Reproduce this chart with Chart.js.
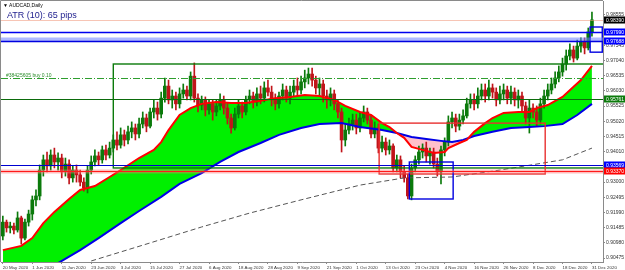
<!DOCTYPE html>
<html>
<head>
<meta charset="utf-8">
<title>AUDCAD Daily</title>
<script src="https://cdn.jsdelivr.net/npm/chart.js@4.4.1/dist/chart.umd.min.js"></script>
<style>
  html, body { margin: 0; padding: 0; background: #fff; }
  #box { position: relative; width: 625px; height: 270px; overflow: hidden; }
  #box canvas { position: absolute; left: 0; top: 0; }
  .lbl { position: absolute; white-space: nowrap; font-family: "Liberation Sans", Arial, sans-serif; }
  .tiny { font-size: 10px; line-height: 10px; transform: scale(0.5); transform-origin: 0 0; }
</style>
</head>
<body>
<div id="box">
  <canvas id="chart" width="625" height="270"></canvas>
  <div class="lbl tiny" style="left:3px;top:3px;color:#000">▼ AUDCAD,Daily</div>
  <div class="lbl" style="left:7px;top:11px;font-size:9px;line-height:9px;color:#1c1c8c">ATR (10): 65 pips</div>
  <div class="lbl tiny" style="left:6px;top:73px;color:#2a8c2a">#38425605 buy 0.10</div>
</div>
<script>
// daily bars, index 0 = 20 May 2020 ... 160 = 31 Dec 2020 (no bar on 25 Dec)
const opens = [
  0.9121,0.9167,0.9148,0.9154,0.9141,0.9181,0.9114,0.9167,0.9194,0.9241,
  0.9254,0.9340,0.9374,0.9354,0.9390,0.9367,0.9380,0.9334,0.9360,0.9314,
  0.9340,0.9324,0.9300,0.9280,0.9340,0.9367,0.9387,0.9374,0.9407,0.9390,
  0.9413,0.9440,0.9423,0.9457,0.9440,0.9467,0.9480,0.9460,0.9493,0.9513,
  0.9486,0.9533,0.9546,0.9526,0.9579,0.9619,0.9573,0.9586,0.9560,0.9593,
  0.9606,0.9586,0.9652,0.9579,0.9556,0.9573,0.9540,0.9560,0.9533,0.9553,
  0.9573,0.9546,0.9513,0.9480,0.9526,0.9553,0.9533,0.9573,0.9586,0.9566,
  0.9593,0.9579,0.9613,0.9599,0.9573,0.9560,0.9586,0.9606,0.9579,0.9599,
  0.9619,0.9606,0.9633,0.9646,0.9659,0.9639,0.9613,0.9626,0.9586,0.9573,
  0.9593,0.9560,0.9533,0.9440,0.9473,0.9493,0.9506,0.9480,0.9513,0.9533,
  0.9506,0.9460,0.9480,0.9413,0.9433,0.9407,0.9420,0.9347,0.9374,0.9334,
  0.9314,0.9254,0.9347,0.9374,0.9400,0.9413,0.9387,0.9400,0.9360,0.9334,
  0.9407,0.9433,0.9500,0.9513,0.9486,0.9506,0.9520,0.9560,0.9573,0.9560,
  0.9586,0.9606,0.9586,0.9613,0.9599,0.9573,0.9593,0.9606,0.9579,0.9599,
  0.9573,0.9586,0.9553,0.9513,0.9546,0.9533,0.9506,0.9560,0.9586,0.9606,
  0.9626,0.9646,0.9666,0.9692,0.9719,0.9739,0.9712,0.9752,0.9765,0.9746,
  0.9799
];
const highs = [
  0.9187,0.9174,0.9167,0.9164,0.9201,0.9187,0.9177,0.9207,0.9254,0.9274,
  0.9357,0.9390,0.9400,0.9407,0.9413,0.9397,0.9393,0.9380,0.9374,0.9354,
  0.9357,0.9340,0.9314,0.9354,0.9387,0.9407,0.9400,0.9420,0.9423,0.9433,
  0.9457,0.9467,0.9480,0.9473,0.9486,0.9500,0.9493,0.9513,0.9533,0.9526,
  0.9546,0.9573,0.9566,0.9599,0.9646,0.9639,0.9606,0.9599,0.9613,0.9626,
  0.9619,0.9666,0.9696,0.9593,0.9586,0.9583,0.9573,0.9573,0.9573,0.9593,
  0.9586,0.9560,0.9526,0.9546,0.9573,0.9566,0.9586,0.9606,0.9599,0.9613,
  0.9619,0.9633,0.9639,0.9619,0.9593,0.9599,0.9626,0.9619,0.9619,0.9639,
  0.9646,0.9652,0.9672,0.9679,0.9679,0.9652,0.9646,0.9639,0.9606,0.9613,
  0.9606,0.9573,0.9546,0.9493,0.9513,0.9526,0.9526,0.9533,0.9553,0.9546,
  0.9520,0.9500,0.9493,0.9453,0.9447,0.9440,0.9427,0.9390,0.9387,0.9354,
  0.9327,0.9360,0.9387,0.9420,0.9427,0.9433,0.9413,0.9413,0.9380,0.9420,
  0.9447,0.9520,0.9533,0.9526,0.9526,0.9540,0.9579,0.9593,0.9593,0.9613,
  0.9626,0.9626,0.9639,0.9626,0.9613,0.9619,0.9626,0.9619,0.9619,0.9613,
  0.9606,0.9599,0.9566,0.9573,0.9560,0.9553,0.9579,0.9606,0.9626,0.9646,
  0.9666,0.9686,0.9712,0.9739,0.9759,0.9752,0.9772,0.9779,0.9779,0.9812,
  0.9865
];
const lows = [
  0.9108,0.9134,0.9131,0.9128,0.9134,0.9094,0.9108,0.9154,0.9174,0.9221,
  0.9241,0.9320,0.9334,0.9340,0.9347,0.9340,0.9314,0.9320,0.9294,0.9300,
  0.9300,0.9287,0.9270,0.9264,0.9327,0.9354,0.9357,0.9363,0.9374,0.9380,
  0.9400,0.9407,0.9413,0.9420,0.9427,0.9447,0.9440,0.9447,0.9480,0.9467,
  0.9480,0.9513,0.9506,0.9513,0.9566,0.9560,0.9546,0.9540,0.9546,0.9579,
  0.9573,0.9573,0.9566,0.9533,0.9540,0.9520,0.9526,0.9506,0.9520,0.9540,
  0.9526,0.9493,0.9463,0.9473,0.9513,0.9513,0.9523,0.9560,0.9546,0.9553,
  0.9560,0.9566,0.9586,0.9553,0.9540,0.9546,0.9573,0.9566,0.9560,0.9586,
  0.9586,0.9593,0.9613,0.9626,0.9619,0.9593,0.9586,0.9566,0.9546,0.9553,
  0.9540,0.9513,0.9400,0.9420,0.9460,0.9473,0.9460,0.9467,0.9500,0.9493,
  0.9447,0.9447,0.9397,0.9400,0.9390,0.9393,0.9334,0.9334,0.9314,0.9300,
  0.9244,0.9241,0.9334,0.9360,0.9380,0.9367,0.9360,0.9347,0.9320,0.9294,
  0.9387,0.9420,0.9480,0.9467,0.9473,0.9493,0.9513,0.9546,0.9540,0.9546,
  0.9573,0.9566,0.9573,0.9579,0.9553,0.9560,0.9573,0.9560,0.9560,0.9553,
  0.9546,0.9533,0.9493,0.9463,0.9513,0.9486,0.9493,0.9546,0.9573,0.9593,
  0.9613,0.9633,0.9652,0.9672,0.9706,0.9699,0.9706,0.9732,0.9726,0.9739,
  0.9785
];
const closes = [
  0.9167,0.9148,0.9154,0.9141,0.9181,0.9114,0.9167,0.9194,0.9241,0.9254,
  0.9340,0.9374,0.9354,0.9390,0.9367,0.9380,0.9334,0.9360,0.9314,0.9340,
  0.9324,0.9300,0.9280,0.9340,0.9367,0.9387,0.9374,0.9407,0.9390,0.9413,
  0.9440,0.9423,0.9457,0.9440,0.9467,0.9480,0.9460,0.9493,0.9513,0.9486,
  0.9533,0.9546,0.9526,0.9579,0.9619,0.9573,0.9586,0.9560,0.9593,0.9606,
  0.9586,0.9652,0.9579,0.9556,0.9573,0.9540,0.9560,0.9533,0.9553,0.9573,
  0.9546,0.9513,0.9480,0.9526,0.9553,0.9533,0.9573,0.9586,0.9566,0.9593,
  0.9579,0.9613,0.9599,0.9573,0.9560,0.9586,0.9606,0.9579,0.9599,0.9619,
  0.9606,0.9633,0.9646,0.9659,0.9639,0.9613,0.9626,0.9586,0.9573,0.9593,
  0.9560,0.9533,0.9440,0.9473,0.9493,0.9506,0.9480,0.9513,0.9533,0.9506,
  0.9460,0.9480,0.9413,0.9433,0.9407,0.9420,0.9347,0.9374,0.9334,0.9314,
  0.9254,0.9347,0.9374,0.9400,0.9413,0.9387,0.9400,0.9360,0.9334,0.9407,
  0.9433,0.9500,0.9513,0.9486,0.9506,0.9520,0.9560,0.9573,0.9560,0.9586,
  0.9606,0.9586,0.9613,0.9599,0.9573,0.9593,0.9606,0.9579,0.9599,0.9573,
  0.9586,0.9553,0.9513,0.9546,0.9533,0.9506,0.9560,0.9586,0.9606,0.9626,
  0.9646,0.9666,0.9692,0.9719,0.9739,0.9712,0.9752,0.9765,0.9746,0.9799,
  0.9839
];

// moving averages at these bar indices
const fastMaIdx = [0,5,8,11,14,18,21,25,29,32,37,41,43,45,48,51,54,58,62,66,70,74,78,82,86,90,93,97,100,103,105,107,109,111,114,117,120,121,124,126,128,131,133,136,140,143,145,148,152,157,160];
const fastMa = [0.9074,0.9088,0.9114,0.9164,0.9201,0.9244,0.9274,0.9287,0.9317,0.9340,0.9380,0.9407,0.9433,0.9473,0.9523,0.9546,0.9560,0.9566,0.9563,0.9563,0.9570,0.9579,0.9583,0.9589,0.9586,0.9573,0.9553,0.9533,0.9523,0.9496,0.9483,0.9463,0.9447,0.9417,0.9407,0.9397,0.9400,0.9413,0.9430,0.9440,0.9467,0.9496,0.9513,0.9530,0.9533,0.9533,0.9546,0.9556,0.9583,0.9639,0.9686];
const slowMaIdx = [0,15,21,26,32,37,43,48,54,59,64,70,75,81,86,92,97,103,107,111,115,119,122,125,128,133,138,143,147,152,156,160];
const slowMa = [0.8928,0.9031,0.9074,0.9114,0.9164,0.9204,0.9251,0.9294,0.9330,0.9367,0.9400,0.9430,0.9457,0.9480,0.9493,0.9496,0.9483,0.9473,0.9463,0.9450,0.9443,0.9437,0.9433,0.9440,0.9453,0.9467,0.9480,0.9483,0.9486,0.9493,0.9523,0.9560];
const longMaIdx = [24,32,40,54,67,81,97,109,122,135,152,160];
const longMa = [0.9038,0.9068,0.9098,0.9151,0.9197,0.9241,0.9290,0.9314,0.9317,0.9340,0.9374,0.9413];

const xTickIdx = [0,8,16,24,32,40,48,56,64,72,80,88,96,104,112,120,128,136,144,152,160];
const xTickText = ['20 May 2020','1 Jun 2020','11 Jun 2020','23 Jun 2020','3 Jul 2020','15 Jul 2020','27 Jul 2020','6 Aug 2020','18 Aug 2020','28 Aug 2020','9 Sep 2020','21 Sep 2020','1 Oct 2020','13 Oct 2020','23 Oct 2020','4 Nov 2020','16 Nov 2020','26 Nov 2020','8 Dec 2020','18 Dec 2020','31 Dec 2020'];
const yTicks = [0.98555,0.97545,0.97040,0.96535,0.96030,0.95525,0.95020,0.94515,0.94010,0.93000,0.92495,0.91990,0.91485,0.90980,0.90475];

// horizontal lines and rectangles drawn on the chart
const levels = [0.98390, 0.97990, 0.97688, 0.96475, 0.95761, 0.93569, 0.93370];
const rectFrom = [30, 102.2, 110.4, 159.5];
const rectTo = [170, 147.3, 122.3, 162.8];
const rectTop = [0.96924, 0.94960, 0.93668, 0.98153];
const rectBottom = [0.93470, 0.93270, 0.92439, 0.97317];

// styles
const bullColor = '#0b7a0b';
const bearColor = '#c0141a';
const levelStyle = [
  { color: 'rgba(240,150,120,0.55)', width: 1 },
  { color: '#0000f0', width: 1.6 },
  { color: '#0000e0', width: 1.4, band: 'rgba(110,130,255,0.55)', bandShift: -2 },
  { color: '#2e9e2e', width: 1, dash: [7, 2, 1, 2] },
  { color: '#0b6b0b', width: 1.2 },
  { color: '#0000d0', width: 1.2 },
  { color: '#ff1a1a', width: 1.2, band: 'rgba(255,110,110,0.45)', bandShift: 0 }
];
const levelTag = ['#000000', '#0000ff', '#0000ff', null, '#0b7a0b', '#0000ff', '#ff0000'];
const rectColor = ['#0b7a0b', '#e83030', '#0000e0', '#0000e0'];

const candleColor = ctx => closes[ctx.dataIndex] >= opens[ctx.dataIndex] ? bullColor : bearColor;

const drawings = {
  id: 'drawings',
  afterDatasetsDraw(chart) {
    const { ctx, chartArea: a, scales: { x, y } } = chart;
    ctx.save();
    ctx.beginPath();
    ctx.rect(a.left, a.top, a.right - a.left, a.bottom - a.top);
    ctx.clip();
    rectFrom.forEach((f, k) => {
      const x0 = x.getPixelForValue(f), x1 = x.getPixelForValue(rectTo[k]);
      const y0 = y.getPixelForValue(rectTop[k]), y1 = y.getPixelForValue(rectBottom[k]);
      ctx.strokeStyle = rectColor[k];
      ctx.lineWidth = 1.4;
      ctx.setLineDash([]);
      ctx.strokeRect(x0, y0, x1 - x0, y1 - y0);
    });
    levels.forEach((v, k) => {
      const st = levelStyle[k];
      const py = Math.round(y.getPixelForValue(v)) + 0.5;
      if (st.band) {
        ctx.strokeStyle = st.band;
        ctx.lineWidth = 4;
        ctx.setLineDash([]);
        ctx.beginPath();
        ctx.moveTo(a.left, py + st.bandShift);
        ctx.lineTo(a.right, py + st.bandShift);
        ctx.stroke();
      }
      ctx.strokeStyle = st.color;
      ctx.lineWidth = st.width;
      ctx.setLineDash(st.dash || []);
      ctx.beginPath();
      ctx.moveTo(a.left, py);
      ctx.lineTo(a.right, py);
      ctx.stroke();
    });
    ctx.restore();
  },
  afterDraw(chart) {
    const { ctx, chartArea: a, scales: { y } } = chart;
    ctx.save();
    ctx.strokeStyle = '#8a8a8a';
    ctx.lineWidth = 1;
    ctx.beginPath();
    ctx.moveTo(a.left - 0.5, a.bottom);
    ctx.lineTo(a.left - 0.5, a.top - 0.5);
    ctx.lineTo(a.right, a.top - 0.5);
    ctx.stroke();
    ctx.font = '5px "Liberation Sans", Arial, sans-serif';
    ctx.textBaseline = 'middle';
    levels.forEach((v, k) => {
      if (!levelTag[k]) return;
      const py = Math.round(y.getPixelForValue(v));
      ctx.fillStyle = levelTag[k];
      ctx.fillRect(a.right + 1, py - 3.5, 21, 7);
      ctx.fillStyle = '#ffffff';
      ctx.fillText(v.toFixed(5), a.right + 3, py + 0.5);
    });
    ctx.restore();
  }
};

Chart.defaults.font.family = '"Liberation Sans", Arial, sans-serif';

new Chart(document.getElementById('chart'), {
  type: 'bar',
  data: {
    datasets: [
      {
        label: 'wick',
        data: highs.map((h, i) => ({ x: i, y: [lows[i], h] })),
        backgroundColor: candleColor,
        barThickness: 1,
        grouped: false,
        borderWidth: 0,
        order: 3
      },
      {
        label: 'body',
        data: opens.map((o, i) => ({ x: i, y: [o, closes[i]] })),
        backgroundColor: candleColor,
        barThickness: 3,
        minBarLength: 1,
        grouped: false,
        borderWidth: 0,
        order: 2
      },
      {
        type: 'line',
        label: 'fast MA',
        data: fastMaIdx.map((i, k) => ({ x: i, y: fastMa[k] })),
        borderColor: '#ff0000',
        borderWidth: 2,
        pointRadius: 0,
        tension: 0,
        fill: { target: '+1', above: '#00f000', below: '#ffc0cb' },
        order: 0
      },
      {
        type: 'line',
        label: 'slow MA',
        data: slowMaIdx.map((i, k) => ({ x: i, y: slowMa[k] })),
        borderColor: '#0000e6',
        borderWidth: 2,
        pointRadius: 0,
        tension: 0,
        fill: false,
        order: 0
      },
      {
        type: 'line',
        label: 'long MA',
        data: longMaIdx.map((i, k) => ({ x: i, y: longMa[k] })),
        borderColor: '#555555',
        borderWidth: 1,
        borderDash: [5, 3],
        pointRadius: 0,
        tension: 0,
        fill: false,
        order: 1
      }
    ]
  },
  options: {
    responsive: false,
    devicePixelRatio: 1,
    animation: false,
    layout: { padding: { left: 1, top: 1, right: 0, bottom: 0 } },
    plugins: {
      legend: { display: false },
      tooltip: { enabled: false },
      filler: { drawTime: 'beforeDatasetsDraw' }
    },
    scales: {
      x: {
        type: 'linear',
        min: -0.5,
        max: 163,
        offset: false,
        bounds: 'data',
        afterBuildTicks: s => { s.ticks = xTickIdx.map(v => ({ value: v })); },
        afterFit: s => { s.height = 8; s.paddingLeft = 0; s.paddingRight = 0; },
        ticks: {
          autoSkip: false,
          maxRotation: 0,
          minRotation: 0,
          align: 'start',
          padding: 1,
          color: '#333',
          font: { size: 4.4 },
          callback: (v, i) => xTickText[i]
        },
        grid: { drawOnChartArea: false, offset: false, tickLength: 2, color: '#8a8a8a' },
        border: { color: '#8a8a8a' }
      },
      y: {
        type: 'linear',
        position: 'right',
        min: 0.90346,
        max: 0.99017,
        beginAtZero: false,
        bounds: 'data',
        afterBuildTicks: s => { s.ticks = yTicks.map(v => ({ value: v })); },
        afterFit: s => { s.width = 22; s.paddingTop = 0; s.paddingBottom = 0; },
        ticks: {
          autoSkip: false,
          padding: 1,
          color: '#333',
          font: { size: 5 },
          callback: v => v.toFixed(5)
        },
        grid: { drawOnChartArea: false, tickLength: 2, color: '#8a8a8a' },
        border: { color: '#8a8a8a' }
      }
    }
  },
  plugins: [drawings]
});
</script>
</body>
</html>
